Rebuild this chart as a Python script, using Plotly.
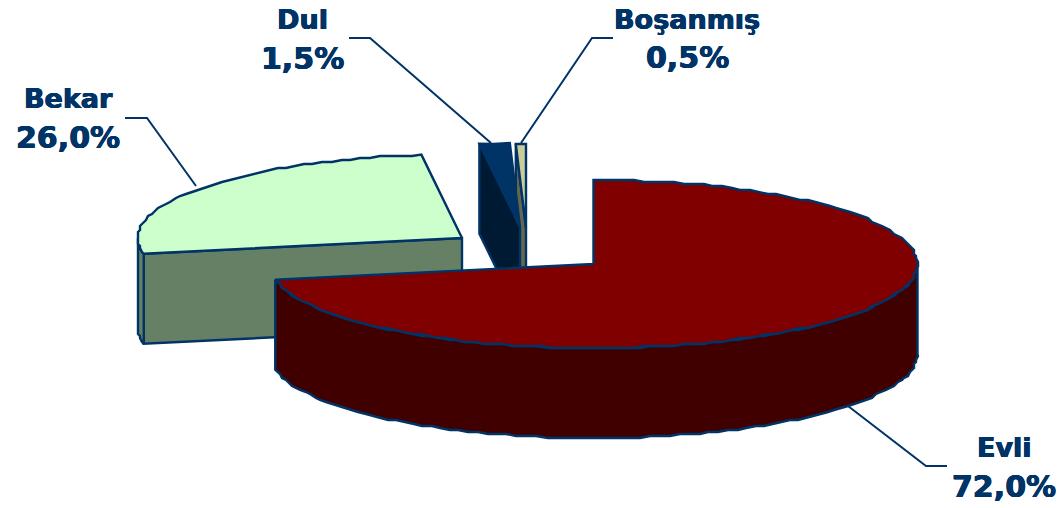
import math
import numpy as np
import plotly.graph_objects as go

categories = ["Evli", "Bekar", "Dul", "Boşanmış"]
values = [72.0, 26.0, 1.5, 0.5]

top_colors = ["#800000", "#CCFFCC", "#003366", "#CCCC99"]
wall_colors = ["#400000", "#668066", "#001A33", "#66664D"]
edge_color = "#003366"

# pie geometry (canvas pixels)
rx, ry, depth = 324, 84, 90
centers = {"Evli": (593.5, 264), "Bekar": (462, 238), "Dul": (520, 227), "Boşanmış": (526, 228)}
draw_order = ["Bekar", "Boşanmış", "Dul", "Evli"]

label_pos = {"Evli": (1004, 447, 486), "Bekar": (68, 98, 137), "Dul": (302, 19, 58), "Boşanmış": (687, 19, 57)}
leaders = {
    "Evli": ([848, 926, 947], [406, 466, 466]),
    "Bekar": ([196, 147, 125], [186, 118, 118]),
    "Dul": ([491, 370, 349], [143, 38, 38]),
    "Boşanmış": ([521, 592, 613], [143, 38, 38]),
}
text_shadow = "0.5px 0 0 #003366, -0.5px 0 0 #003366, 0 0.4px 0 #003366"

fig = go.Figure()


def rim(cx, cy, a0, a1):
    n = max(2, int(abs(a1 - a0) / 1.8) + 1)
    ang = np.radians(np.linspace(a0, a1, n))
    xs = cx + rx * np.sin(ang)
    ys = cy - ry * np.cos(ang)
    # coarse vertex snapping gives the chart's slightly bumpy outline
    ys[1:-1] = np.round(ys[1:-1] / 2) * 2
    xs[1:-1] = np.round(xs[1:-1] / 2) * 2
    return list(xs), list(ys)


def poly(xs, ys, fill, width=2.4):
    fig.add_trace(go.Scatter(
        x=xs, y=ys, mode="lines", fill="toself", fillcolor=fill,
        line=dict(color=edge_color, width=width), hoverinfo="skip", showlegend=False,
    ))


# slice spans from the values
total = sum(values)
spans = {}
start = 0.0
for c, v in zip(categories, values):
    spans[c] = (start, start + 360.0 * v / total)
    start += 360.0 * v / total

for c in draw_order:
    i = categories.index(c)
    cx, cy = centers[c]
    a0, a1 = spans[c]
    # cut face at the start angle (visible when the slice lies left of the centre)
    if c != "Evli":
        ex = cx + rx * math.sin(math.radians(a0))
        ey = cy - ry * math.cos(math.radians(a0))
        poly([ex, cx, cx, ex, ex], [ey, cy, cy + depth, ey + depth, ey], wall_colors[i])
    # outer wall: front half of the rim (90..270 degrees)
    w0, w1 = max(a0, 90), min(a1, 270)
    if w1 > w0:
        xs, ys = rim(cx, cy, w0, w1)
        poly(xs + xs[::-1] + [xs[0]], ys + [y + depth for y in ys[::-1]] + [ys[0]], wall_colors[i])
    # top face
    xs, ys = rim(cx, cy, a0, a1)
    poly([cx] + xs + [cx], [cy] + ys + [cy], top_colors[i])

for c in categories:
    lx, ly = leaders[c]
    fig.add_trace(go.Scatter(x=lx, y=ly, mode="lines", line=dict(color=edge_color, width=2),
                             hoverinfo="skip", showlegend=False))

for c, v in zip(categories, values):
    x, y1, y2 = label_pos[c]
    fig.add_annotation(x=x, y=y1, text=f"<b>{c}</b>", showarrow=False, xanchor="center", yanchor="middle",
                       font=dict(family="DejaVu Sans", size=27, color=edge_color, shadow=text_shadow))
    fig.add_annotation(x=x, y=y2, text="<b>" + f"{v:.1f}".replace(".", ",") + "%</b>", showarrow=False,
                       xanchor="center", yanchor="middle",
                       font=dict(family="DejaVu Sans", size=30, color=edge_color, shadow=text_shadow))

fig.update_layout(
    width=1064, height=508, margin=dict(l=0, r=0, t=0, b=0),
    paper_bgcolor="white", plot_bgcolor="white", showlegend=False,
    xaxis=dict(range=[0, 1064], visible=False, fixedrange=True),
    yaxis=dict(range=[508, 0], visible=False, fixedrange=True),
)
fig.write_html("out.html", config={"displayModeBar": False},
               post_script="document.body.style.margin='0';document.documentElement.style.overflow='hidden';")
